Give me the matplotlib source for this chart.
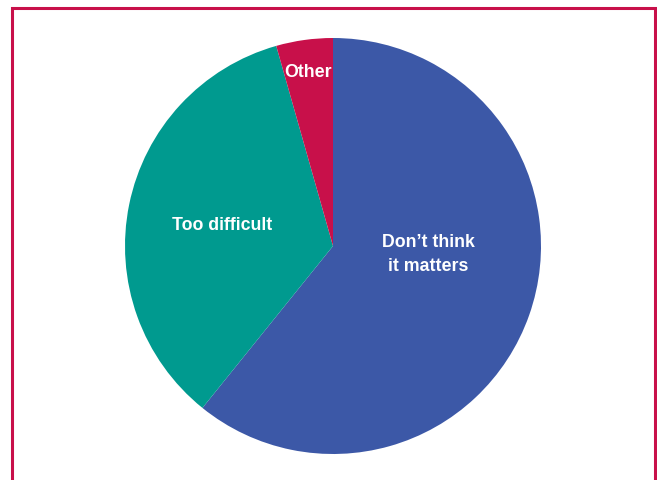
import matplotlib.pyplot as plt
from matplotlib.patches import Rectangle

# Share of responses
labels = ["Don\u2019t think\nit matters", "Too difficult", "Other"]
shares = [60.8, 34.8, 4.4]
colors = ["#3C58A7", "#009A8F", "#C8104A"]

# where each label sits inside the unit pie
label_pos = [(0.46, -0.04), (-0.535, 0.10), (-0.12, 0.835)]

W, H = 657, 480
fig = plt.figure(figsize=(W / 100, H / 100), dpi=100)

# pie centred at (333, 246) px with radius 208 px
cx, cy, r = 333, 246, 208
ax = fig.add_axes([(cx - r) / W, (H - cy - r) / H, 2 * r / W, 2 * r / H])
wedges, _ = ax.pie(shares, colors=colors, startangle=90, counterclock=False,
                   radius=1, wedgeprops=dict(linewidth=0))
ax.set_xlim(-1, 1)
ax.set_ylim(-1, 1)
ax.set_aspect("equal")
ax.axis("off")

for text, (x, y) in zip(labels, label_pos):
    ax.text(x, y, text, ha="center", va="center", color="white",
            fontsize=12.8, fontweight="bold", family=["Liberation Sans", "DejaVu Sans"],
            linespacing=1.5)

# crimson frame, open at the bottom edge of the image
frame = Rectangle((12 / W, -0.05), (655 - 12) / W, (H - 8) / H + 0.05,
                  transform=fig.transFigure, fill=False, edgecolor="#C8104A",
                  linewidth=2.2)
fig.patches.append(frame)

fig.savefig("out.png", dpi=100)
